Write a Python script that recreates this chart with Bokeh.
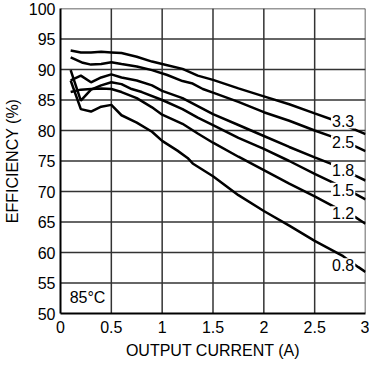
import numpy as np
from bokeh.plotting import figure
from bokeh.models import Range1d, FixedTicker, ColumnDataSource, Label
from bokeh.embed import file_html
from bokeh.resources import INLINE
from bokeh.core.properties import value

# Output voltage series (V)
series_names = ["3.3", "2.5", "1.8", "1.5", "1.2", "0.8"]

# Output current (A) and efficiency (%)
i_33 = [0.1, 0.2, 0.3, 0.4, 0.5, 0.6, 0.75, 0.9, 1.05, 1.2, 1.35, 1.5, 1.75, 2.0, 2.25, 2.5, 2.67, 2.89, 3.0]
e_33 = [93.1, 92.8, 92.8, 92.9, 92.8, 92.7, 92.1, 91.3, 90.7, 90.1, 89.0, 88.3, 86.9, 85.6, 84.3, 82.8, 81.8, 80.2, 79.4]

i_25 = [0.1, 0.22, 0.3, 0.4, 0.5, 0.6, 0.75, 0.9, 1.05, 1.2, 1.3, 1.4, 1.5, 1.75, 2.0, 2.25, 2.5, 2.67, 2.9, 3.0]
e_25 = [92.0, 91.1, 90.8, 90.9, 91.2, 90.9, 90.5, 89.9, 89.1, 88.1, 87.7, 86.8, 86.2, 84.7, 83.0, 81.6, 80.0, 79.0, 77.4, 76.6]

i_18 = [0.1, 0.2, 0.3, 0.4, 0.5, 0.6, 0.75, 0.9, 1.0, 1.2, 1.35, 1.5, 1.75, 2.0, 2.25, 2.5, 2.67, 2.9, 3.0]
e_18 = [88.2, 89.0, 87.9, 88.7, 89.2, 88.7, 88.2, 87.4, 86.5, 85.3, 84.0, 82.7, 80.9, 79.1, 77.3, 75.6, 74.5, 72.6, 71.8]

i_15 = [0.1, 0.2, 0.3, 0.4, 0.5, 0.6, 0.7, 0.8, 1.0, 1.2, 1.35, 1.5, 1.75, 2.0, 2.25, 2.5, 2.66, 2.89, 3.0]
e_15 = [89.9, 84.9, 86.7, 87.4, 87.9, 87.6, 86.8, 86.3, 85.0, 83.5, 82.1, 80.9, 78.8, 77.0, 75.0, 72.9, 71.6, 69.7, 68.7]

i_12 = [0.1, 0.2, 0.3, 0.4, 0.5, 0.6, 0.75, 0.9, 1.0, 1.2, 1.35, 1.5, 1.75, 2.0, 2.25, 2.5, 2.68, 2.9, 3.0]
e_12 = [86.3, 86.7, 86.8, 86.9, 86.8, 86.3, 85.3, 83.8, 82.6, 81.1, 79.5, 78.0, 75.7, 73.5, 71.3, 69.2, 67.6, 65.8, 64.7]

i_08 = [0.1, 0.2, 0.3, 0.4, 0.5, 0.6, 0.75, 0.9, 1.0, 1.15, 1.25, 1.3, 1.5, 1.75, 2.0, 2.25, 2.5, 2.78, 2.93, 3.0]
e_08 = [88.2, 83.5, 83.1, 83.9, 84.2, 82.5, 81.3, 79.8, 78.3, 76.7, 75.5, 74.6, 72.5, 69.4, 66.8, 64.4, 61.9, 59.4, 57.6, 56.8]

x_ticks = [0, 0.5, 1, 1.5, 2, 2.5, 3]
x_tick_labels = ["0", "0.5", "1", "1.5", "2", "2.5", "3"]
y_ticks = [50, 55, 60, 65, 70, 75, 80, 85, 90, 95, 100]
y_tick_labels = ["50", "55", "60", "65", "70", "75", "80", "85", "90", "95", "100"]

FONT = "Liberation Sans"
X0, X1 = x_ticks[0], x_ticks[-1]
Y0, Y1 = y_ticks[0], y_ticks[-1]

p = figure(width=369, height=363, output_backend="svg", toolbar_location=None,
           x_range=Range1d(X0, X1), y_range=Range1d(Y0, Y1),
           min_border_left=55, min_border_right=4, min_border_top=8, min_border_bottom=50)
p.outline_line_color = None
p.xgrid.visible = False
p.ygrid.visible = False

for ax in (p.xaxis[0], p.yaxis[0]):
    ax.axis_line_color = "black"
    ax.axis_line_width = 2
    ax.major_tick_out = 0
    ax.major_tick_in = 0
    ax.minor_tick_out = 0
    ax.minor_tick_in = 0
    ax.major_label_text_font = FONT
    ax.major_label_text_font_size = "16px"
    ax.major_label_text_color = "black"
    ax.axis_label_text_font = FONT
    ax.axis_label_text_font_size = "16px"
    ax.axis_label_text_font_style = "normal"
    ax.axis_label_text_color = "black"

p.xaxis.ticker = FixedTicker(ticks=x_ticks)
p.yaxis.ticker = FixedTicker(ticks=y_ticks)
p.xaxis.major_label_overrides = dict(zip(x_ticks, x_tick_labels))
p.yaxis.major_label_overrides = dict(zip(y_ticks, y_tick_labels))
p.xaxis.axis_label = "OUTPUT CURRENT (A)"
p.yaxis.axis_label = "EFFICIENCY (%)"
p.xaxis.major_label_standoff = 7
p.yaxis.major_label_standoff = 5
p.xaxis.axis_label_standoff = 6
p.yaxis.axis_label_standoff = 5

# grid lines (including the top and right frame edges), drawn from the tick arrays
for xv in x_ticks[1:]:
    p.line([xv, xv], [Y0, Y1], line_color="#333333", line_width=1.5)
for yv in y_ticks[1:]:
    p.line([X0, X1], [yv, yv], line_color="#333333", line_width=1.5)

curves = [(i_33, e_33), (i_25, e_25), (i_18, e_18), (i_15, e_15), (i_12, e_12), (i_08, e_08)]
for xs, ys in curves:
    p.line(xs, ys, line_color="black", line_width=2.5)

label_x = 2.78
lx = [label_x] * len(curves)
ly = [float(np.interp(label_x, xs, ys)) for xs, ys in curves]
loff = [-3, 1, 0, 2, 2, 9]
src = ColumnDataSource(dict(x=lx, y=ly, t=series_names, off=loff))
p.text(x="x", y="y", text="t", source=src, y_offset="off",
       text_font=value(FONT), text_font_size="16px", text_color="black",
       text_align="center", text_baseline="middle",
       background_fill_color="white", padding=1)

p.add_layout(Label(x=0.09, y=52.7, text="85°C", text_font=FONT, text_font_size="16px",
                   text_color="black", text_align="left", text_baseline="middle"))

open("out.html", "w").write(file_html(p, INLINE))
